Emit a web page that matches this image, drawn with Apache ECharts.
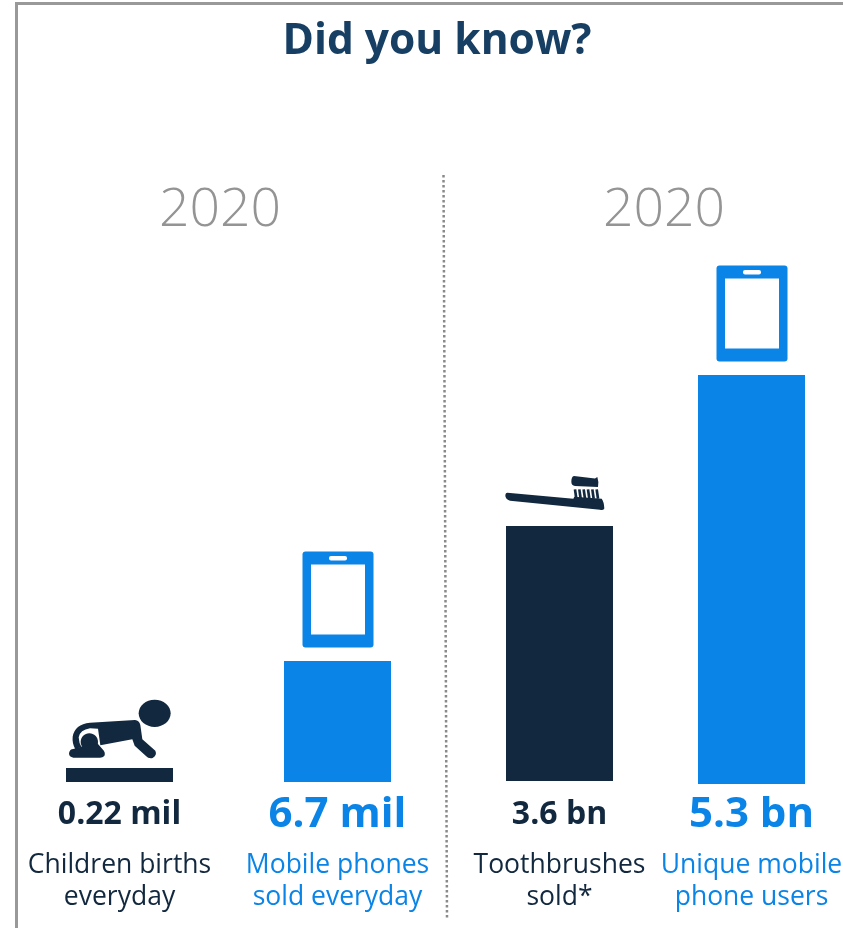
<!DOCTYPE html>
<html><head><meta charset="utf-8">
<style>html,body{margin:0;padding:0;background:#fff}#c{width:843px;height:928px}</style>
<script src="https://cdn.jsdelivr.net/npm/echarts@6/dist/echarts.min.js"></script>
</head><body><div id="c"></div>
<script>
const titleText = 'Did you know?';
const yearLabels = ['2020', '2020'];
const values = [0.22, 6.7, 3.6, 5.3];
const valueLabels = ['0.22 mil', '6.7 mil', '3.6 bn', '5.3 bn'];
const captionLine1 = ['Children births', 'Mobile phones', 'Toothbrushes', 'Unique mobile'];
const captionLine2 = ['everyday', 'sold everyday', 'sold*', 'phone users'];
const icons = ['baby', 'phone', 'brush', 'phone'];
const colorKeys = ['dark', 'blue', 'dark', 'blue'];
const sizeKeys = ['vs', 'vl', 'vs', 'vl'];

// Each bar has its own scale in the source graphic.
const axisMax = [7.857, 27.69, 7.06, 6.48];
const barLeft = [66, 284, 506, 698];
const barBase = [782, 782, 781, 784];
const BAR_W = 107, PLOT_H = 500, LABEL_TOP = 795;
const DARK = '#12283F', BLUE = '#0A84E6', GREY = '#949494', TITLE = '#173E63';
const FONT = '"Open Sans", sans-serif';
const pal = {dark: DARK, blue: BLUE};

function iconEl(kind, x, y) {
  if (kind === 'phone') {
    return {type: 'group', x, y, children: [
      {type: 'rect', shape: {x: -35, y: -109.5, width: 71, height: 96, r: 3}, style: {fill: BLUE}},
      {type: 'rect', shape: {x: -26.5, y: -96.5, width: 54, height: 70}, style: {fill: '#fff'}},
      {type: 'rect', shape: {x: -8.5, y: -105, width: 18, height: 4.5, r: 2}, style: {fill: '#fff'}}
    ]};
  }
  if (kind === 'baby') {
    return {type: 'group', x: x - 79.5, y: y - 88, scaleX: 1 / 3, scaleY: 1 / 3, children: [
      {type: 'ellipse', shape: {cx: 344, cy: 100, rx: 48, ry: 41}, style: {fill: DARK}},
      {type: 'path', shape: {pathData: 'M150 128 L285 120 Q298 122 301 135 L307 178 L346 212 Q352 225 338 234 Q326 237 317 227 L284 197 L277 178 L181 196 L174 146 L150 145 Q120 150 116 172 Q117 190 124 200 L106 208 Q96 190 98 170 Q104 133 150 128 Z'}, style: {fill: DARK}},
      {type: 'ellipse', shape: {cx: 148, cy: 186, rx: 26, ry: 26}, style: {fill: DARK}},
      {type: 'path', shape: {pathData: 'M100 207 L122 200 L172 190 L187 207 Q198 218 193 228 Q188 233 180 233 L100 233 Q87 231 87 220 Q89 207 100 207 Z'}, style: {fill: DARK}}
    ]};
  }
  const bristles = [258, 271, 284, 297, 310, 323].map(bx => ({
    type: 'line', shape: {x1: bx - 3, y1: 88, x2: bx + 1, y2: 116}, style: {stroke: DARK, lineWidth: 8}
  }));
  return {type: 'group', x: x - 69.5, y: y - 66, scaleX: 1 / 3, scaleY: 1 / 3, children: [
    {type: 'path', shape: {pathData: 'M52 98 L250 116 L253 110 L335 116 Q342 125 343 145 Q340 151 330 149 L60 122 Q45 117 46 105 Q47 98 52 98 Z'}, style: {fill: DARK}},
    {type: 'path', shape: {pathData: 'M252 48 L315 55 L322 51 Q327 65 324 81 L255 78 Q244 76 244 65 Q244 50 252 48 Z'}, style: {fill: DARK}}
  ].concat(bristles)};
}

const grids = [], xAxes = [], yAxes = [], series = [];
values.forEach((v, i) => {
  grids.push({left: barLeft[i], width: BAR_W, top: barBase[i] - PLOT_H, height: PLOT_H, outerBoundsMode: 'none', containLabel: false});
  xAxes.push({
    type: 'category', gridIndex: i, data: [0],
    axisLine: {show: false}, axisTick: {show: false},
    axisLabel: {
      show: true, interval: 0, margin: LABEL_TOP - barBase[i], hideOverlap: false, verticalAlign: 'top',
      formatter: () => `{${sizeKeys[i]}|${valueLabels[i]}}\n{g|}\n{t|${captionLine1[i]}}\n{t|${captionLine2[i]}}`,
      rich: {
        vs: {fontFamily: FONT, fontWeight: 700, fontSize: 32, lineHeight: 40, color: pal[colorKeys[i]]},
        vl: {fontFamily: FONT, fontWeight: 700, fontSize: 42, lineHeight: 40, color: pal[colorKeys[i]]},
        g: {fontSize: 10, lineHeight: 14},
        t: {fontFamily: FONT, fontSize: 26.5, lineHeight: 32, color: pal[colorKeys[i]]}
      }
    }
  });
  yAxes.push({type: 'value', gridIndex: i, min: 0, max: axisMax[i], show: false, splitLine: {show: false}});
  series.push({
    type: 'bar', xAxisIndex: i, yAxisIndex: i, data: [v], barWidth: '100%', silent: true,
    itemStyle: {color: pal[colorKeys[i]]}
  });
  series.push({
    type: 'custom', xAxisIndex: i, yAxisIndex: i, data: [[0, v]], silent: true, clip: false,
    encode: {x: 0, y: 1},
    renderItem: (p, api) => {
      const pt = api.coord([api.value(0), api.value(1)]);
      return iconEl(icons[i], pt[0], pt[1]);
    }
  });
});

const yearEl = (t, x) => ({type: 'text', x, y: 211, style: {
  text: t, fontFamily: FONT, fontWeight: 300, fontSize: 53.5, fill: GREY, textAlign: 'center', textVerticalAlign: 'middle'
}});
const lineEl = (x1, y1, x2, y2, extra) => ({type: 'line', shape: {x1, y1, x2, y2},
  style: Object.assign({stroke: '#999999', lineWidth: 3}, extra || {})});

const chart = echarts.init(document.getElementById('c'), null, {renderer: 'canvas'});
chart.setOption({
  animation: false,
  backgroundColor: '#fff',
  title: {
    text: titleText, left: 432, top: 15, textAlign: 'center',
    textStyle: {fontFamily: FONT, fontWeight: 700, fontSize: 42.5, color: TITLE}
  },
  grid: grids, xAxis: xAxes, yAxis: yAxes, series,
  graphic: [
    lineEl(15, 3.5, 843, 3.5),
    lineEl(16.5, 2, 16.5, 928),
    lineEl(443.5, 175, 447, 918, {stroke: '#8a8a8a', lineWidth: 2.5, lineDash: [2.5, 2.5]}),
    yearEl(yearLabels[0], 220),
    yearEl(yearLabels[1], 664)
  ]
});
</script></body></html>
